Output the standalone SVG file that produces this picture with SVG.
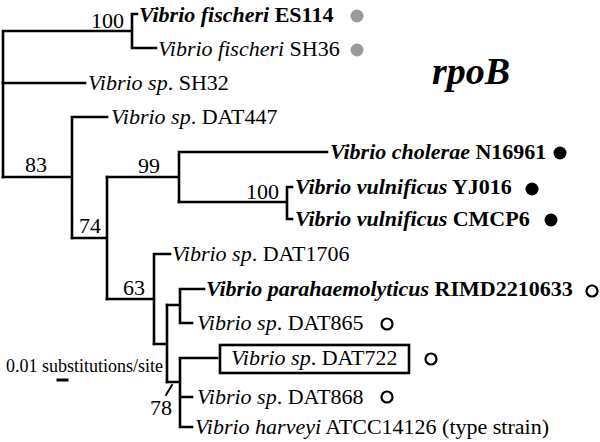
<svg xmlns="http://www.w3.org/2000/svg" width="600" height="442" viewBox="0 0 600 442">
<style>
.br{fill:none;stroke:#000;stroke-width:2.6;stroke-linecap:square}
.t{font-family:"Liberation Serif","Times New Roman",serif;font-size:22px;fill:#000}
.i{font-style:italic}
.b{font-weight:bold}
.bs{font-family:"Liberation Serif","Times New Roman",serif;font-size:22px;fill:#000}
.g{fill:#9a9a9a}
.k{fill:#000}
.o{fill:none;stroke:#000;stroke-width:2.2}
</style>
<rect width="600" height="442" fill="#fff"/>
<g id="connectors">
<path class="br" d="M3,31V177M3,31H132M132,14V48M132,14H137M132,48H156"/>
<path class="br" d="M3,83H85"/>
<path class="br" d="M3,177H72M72,117V238M72,117H107"/>
<path class="br" d="M72,238H107M107,177V299"/>
<path class="br" d="M107,177H179M179,152V202M179,152H327"/>
<path class="br" d="M179,202H287M287,187V219M287,187H292M287,219H292"/>
<path class="br" d="M107,299H154M154,254V344M154,254H170"/>
<path class="br" d="M154,344H167M167,305V382"/>
<path class="br" d="M167,305H180M180,289V323M180,289H204M180,323H192"/>
<path class="br" d="M167,382H180M180,358V427M180,358H217M180,397H192M180,427H192"/>
<path class="br" d="M172,385L166,395" style="stroke-width:2"/>
<path class="br" d="M58,380H67" style="stroke-width:3"/>
</g>
<g id="bootstrap">
<text class="bs" x="124" y="28" text-anchor="end">100</text>
<text class="bs" x="36" y="172" text-anchor="middle">83</text>
<text class="bs" x="149" y="173" text-anchor="middle">99</text>
<text class="bs" x="279" y="199" text-anchor="end">100</text>
<text class="bs" x="90" y="233" text-anchor="middle">74</text>
<text class="bs" x="134" y="295" text-anchor="middle">63</text>
<text class="bs" x="161" y="415" text-anchor="middle">78</text>
</g>
<g id="title"><text x="432" y="84" style="font-family:'Liberation Serif','Times New Roman',serif;font-size:38px;font-weight:bold;font-style:italic">rpoB</text></g>
<g id="scale"><text x="6" y="372" style="font-family:'Liberation Serif','Times New Roman',serif;font-size:18px">0.01 substitutions/site</text></g>
<g id="n-es114"><text class="t b" x="139" y="22"><tspan class="i">Vibrio fischeri</tspan> ES114</text><circle class="g" cx="357" cy="16" r="6.5"/></g>
<g id="n-sh36"><text class="t" x="158" y="56"><tspan class="i">Vibrio fischeri</tspan> SH36</text><circle class="g" cx="357" cy="50" r="6.5"/></g>
<g id="n-sh32"><text class="t" x="88" y="90"><tspan class="i">Vibrio sp</tspan>. SH32</text></g>
<g id="n-dat447"><text class="t" x="111" y="124"><tspan class="i">Vibrio sp</tspan>. DAT447</text></g>
<g id="n-cholerae"><text class="t b" x="330" y="159"><tspan class="i">Vibrio cholerae</tspan> N16961</text><circle class="k" cx="560" cy="153" r="6.5"/></g>
<g id="n-yj016"><text class="t b" x="295" y="194"><tspan class="i">Vibrio vulnificus</tspan> YJ016</text><circle class="k" cx="532" cy="189" r="6.5"/></g>
<g id="n-cmcp6"><text class="t b" x="295" y="226"><tspan class="i">Vibrio vulnificus</tspan> CMCP6</text><circle class="k" cx="551" cy="220" r="6.5"/></g>
<g id="n-dat1706"><text class="t" x="172" y="261"><tspan class="i">Vibrio sp</tspan>. DAT1706</text></g>
<g id="n-parah"><text class="t b" x="206" y="296"><tspan class="i">Vibrio parahaemolyticus</tspan> RIMD2210633</text><circle class="o" cx="592" cy="291" r="5.5"/></g>
<g id="n-dat865"><text class="t" x="197" y="330"><tspan class="i">Vibrio sp</tspan>. DAT865</text><circle class="o" cx="387" cy="324" r="5.5"/></g>
<g id="n-dat722"><rect x="220" y="345" width="189" height="28" fill="none" stroke="#000" stroke-width="2.6"/><text class="t" x="231" y="365"><tspan class="i">Vibrio sp</tspan>. DAT722</text><circle class="o" cx="431" cy="359" r="5.5"/></g>
<g id="n-dat868"><text class="t" x="197" y="404"><tspan class="i">Vibrio sp</tspan>. DAT868</text><circle class="o" cx="387" cy="397" r="5.5"/></g>
<g id="n-harveyi"><text class="t" x="195" y="434"><tspan class="i">Vibrio harveyi</tspan> ATCC14126 (type strain)</text></g>
</svg>
